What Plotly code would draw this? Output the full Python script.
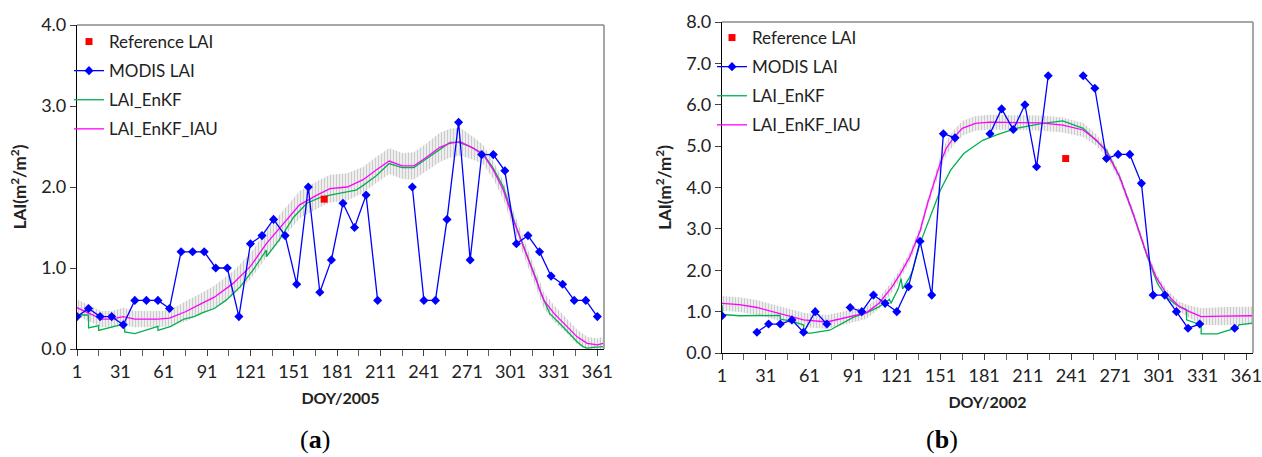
import plotly.graph_objects as go

# ---------------- (a) 2005 ----------------
a_modis_days = [1, 9, 17, 25, 33, 41, 49, 57, 65, 73, 81, 89, 97, 105, 113, 121, 129, 137, 145, 153,
                161, 169, 177, 185, 193, 201, 209, 217, 225, 233, 241, 249, 257, 265, 273, 281, 289,
                297, 305, 313, 321, 329, 337, 345, 353, 361]
a_modis_lai = [0.4, 0.5, 0.4, 0.4, 0.3, 0.6, 0.6, 0.6, 0.5, 1.2, 1.2, 1.2, 1.0, 1.0, 0.4, 1.3, 1.4, 1.6, 1.4, 0.8,
               2.0, 0.7, 1.1, 1.8, 1.5, 1.9, 0.6, None, None, 2.0, 0.6, 0.6, 1.6, 2.8, 1.1, 2.4, 2.4,
               2.2, 1.3, 1.4, 1.2, 0.9, 0.8, 0.6, 0.6, 0.4]
a_ref_day = [172]
a_ref_lai = [1.85]

a_enkf_days = [1, 9, 9, 16, 16, 25, 34, 34, 41, 57, 57, 66, 75, 82, 88, 96, 104, 114, 123, 132, 132,
               141, 151, 160, 169, 176, 188, 194, 199, 208, 217, 226, 234, 243, 252, 259, 265, 273,
               282, 289, 296, 304, 311, 319, 321, 323, 328, 338, 347, 351, 354, 358, 365]
a_enkf_lai = [0.42, 0.42, 0.26, 0.29, 0.23, 0.27, 0.31, 0.21, 0.19, 0.28, 0.23, 0.28, 0.37, 0.40, 0.45, 0.50,
              0.60, 0.77, 0.98, 1.22, 1.14, 1.35, 1.63, 1.80, 1.87, 1.90, 1.94, 1.96, 2.02, 2.14, 2.29,
              2.24, 2.24, 2.35, 2.47, 2.55, 2.55, 2.50, 2.41, 2.23, 2.00, 1.55, 1.22, 0.85, 0.73, 0.65,
              0.44, 0.26, 0.09, 0.03, 0.01, 0.02, 0.03]

a_iau_days = [1, 9, 18, 25, 33, 41, 57, 65, 76, 87, 96, 109, 121, 132, 144, 155, 167, 176, 188, 199,
              208, 217, 226, 234, 243, 252, 259, 266, 275, 282, 289, 296, 303, 310, 317, 324, 331,
              340, 347, 354, 361, 365]
a_iau_lai = [0.51, 0.44, 0.37, 0.37, 0.40, 0.37, 0.37, 0.38, 0.46, 0.56, 0.64, 0.81, 1.02, 1.30, 1.55, 1.78,
             1.90, 1.98, 2.00, 2.09, 2.21, 2.32, 2.26, 2.26, 2.37, 2.49, 2.54, 2.56, 2.48, 2.40, 2.21,
             1.96, 1.59, 1.26, 0.93, 0.60, 0.44, 0.28, 0.15, 0.07, 0.05, 0.07]
a_iau_spread = [0.10, 0.10, 0.10, 0.10, 0.11, 0.10, 0.10, 0.10, 0.12, 0.13, 0.14, 0.15, 0.16, 0.17, 0.17, 0.17,
                0.17, 0.17, 0.17, 0.16, 0.16, 0.16, 0.16, 0.17, 0.17, 0.18, 0.18, 0.17, 0.14, 0.12, 0.11,
                0.11, 0.11, 0.11, 0.11, 0.10, 0.10, 0.09, 0.09, 0.08, 0.08, 0.08]

# ---------------- (b) 2002 ----------------
b_modis_days = [1, 9, 17, 25, 33, 41, 49, 57, 65, 73, 81, 89, 97, 105, 113, 121, 129, 137, 145, 153,
                161, 169, 177, 185, 193, 201, 209, 217, 225, 233, 241, 249, 257, 265, 273, 281, 289,
                297, 305, 313, 321, 329, 337, 345, 353]
b_modis_lai = [0.9, None, None, 0.5, 0.7, 0.7, 0.8, 0.5, 1.0, 0.7, None, 1.1, 1.0, 1.4, 1.2, 1.0, 1.6, 2.7, 1.4, 5.3,
               5.2, None, None, 5.3, 5.9, 5.4, 6.0, 4.5, 6.7, None, None, 6.7, 6.4, 4.7, 4.8, 4.8, 4.1,
               1.4, 1.4, 1.0, 0.6, 0.7, None, None, 0.6]
b_ref_day = [237]
b_ref_lai = [4.7]

b_enkf_days = [1, 1.5, 13, 41, 41, 50, 57, 57, 62, 75, 91, 101, 109, 116, 117, 122, 124, 125, 130, 132,
               137, 144, 151, 158, 167, 180, 190, 203, 221, 235, 249, 265, 274, 284, 293, 300, 306,
               313, 320, 320, 330, 330, 341, 355, 356, 365]
b_enkf_lai = [1.16, 0.93, 0.90, 0.91, 0.82, 0.76, 0.68, 0.48, 0.48, 0.55, 0.86, 0.98, 1.12, 1.30, 1.20, 1.55,
              1.80, 1.55, 1.84, 2.00, 2.65, 3.29, 3.94, 4.42, 4.82, 5.14, 5.28, 5.43, 5.55, 5.61, 5.43,
              4.90, 4.26, 3.29, 2.33, 1.68, 1.36, 1.16, 1.05, 0.80, 0.68, 0.46, 0.46, 0.62, 0.68, 0.72]

b_iau_days = [1, 13, 25, 41, 57, 73, 91, 100, 109, 118, 124, 130, 137, 142, 146, 151, 155, 160, 166, 175,
              185, 220, 235, 249, 258, 265, 274, 283, 292, 299, 306, 315, 322, 330, 345, 365]
b_iau_lai = [1.20, 1.17, 1.10, 0.95, 0.80, 0.75, 0.89, 0.97, 1.21, 1.61, 1.95, 2.33, 2.95, 3.60, 4.05, 4.60,
             4.95, 5.20, 5.43, 5.55, 5.58, 5.56, 5.51, 5.39, 5.15, 4.86, 4.26, 3.40, 2.45, 1.84, 1.44,
             1.12, 1.00, 0.88, 0.89, 0.90]
b_iau_spread = [0.18, 0.18, 0.18, 0.17, 0.17, 0.17, 0.16, 0.15, 0.14, 0.13, 0.12, 0.12, 0.12, 0.12, 0.14, 0.16,
                0.17, 0.18, 0.18, 0.18, 0.18, 0.18, 0.18, 0.17, 0.14, 0.12, 0.10, 0.10, 0.10, 0.10, 0.11,
                0.12, 0.15, 0.20, 0.22, 0.22]

x_tick0, x_dtick = 1, 30
y_titles = "<b>LAI(m<sup>2</sup>/m<sup>2</sup>)</b>"

FONT = "Lato, 'Noto Sans', sans-serif"
BLUE = "#0000ff"
GREEN = "#00b050"
MAGENTA = "#ff00ff"
RED = "#ff0000"

fig = go.Figure()


def add_panel(xa, ya, legend, modis_d, modis_v, ref_d, ref_v, enkf_d, enkf_v, iau_d, iau_v, iau_s):
    lower = [v - s for v, s in zip(iau_v, iau_s)]
    upper = [v + s for v, s in zip(iau_v, iau_s)]
    fig.add_trace(go.Scatter(x=iau_d, y=lower, mode="lines", line=dict(width=0, color="#c8c8c8"),
                             showlegend=False, hoverinfo="skip", xaxis=xa, yaxis=ya))
    fig.add_trace(go.Scatter(x=iau_d, y=upper, mode="lines", line=dict(width=0, color="#c8c8c8"),
                             fill="tonexty", fillcolor="rgba(245,245,245,0.6)",
                             fillpattern=dict(shape="|", fgcolor="#a2a2a2", bgcolor="rgba(238,238,238,0.6)",
                                              size=3, solidity=0.45),
                             showlegend=False, hoverinfo="skip", xaxis=xa, yaxis=ya))
    fig.add_trace(go.Scatter(x=enkf_d, y=enkf_v, mode="lines", name="LAI_EnKF",
                             line=dict(color=GREEN, width=1.3), legend=legend, legendrank=3,
                             legendgroup=legend + "c", xaxis=xa, yaxis=ya))
    fig.add_trace(go.Scatter(x=iau_d, y=iau_v, mode="lines", name="LAI_EnKF_IAU",
                             line=dict(color=MAGENTA, width=1.3), legend=legend, legendrank=4,
                             legendgroup=legend + "d", xaxis=xa, yaxis=ya))
    fig.add_trace(go.Scatter(x=modis_d, y=modis_v, mode="lines+markers", name="MODIS LAI",
                             line=dict(color=BLUE, width=1.3), connectgaps=False,
                             marker=dict(symbol="diamond", size=7, color=BLUE), legend=legend,
                             legendrank=2, legendgroup=legend + "b", xaxis=xa, yaxis=ya))
    fig.add_trace(go.Scatter(x=ref_d, y=ref_v, mode="markers", name="Reference LAI",
                             marker=dict(symbol="square", size=7, color=RED), legend=legend,
                             legendrank=1, legendgroup=legend + "a", xaxis=xa, yaxis=ya))


add_panel("x", "y", "legend", a_modis_days, a_modis_lai, a_ref_day, a_ref_lai,
          a_enkf_days, a_enkf_lai, a_iau_days, a_iau_lai, a_iau_spread)
add_panel("x2", "y2", "legend2", b_modis_days, b_modis_lai, b_ref_day, b_ref_lai,
          b_enkf_days, b_enkf_lai, b_iau_days, b_iau_lai, b_iau_spread)

W, H = 1262, 457
xdom_a = [77 / W, 604 / W]
ydom_a = [1 - 349 / H, 1 - 25 / H]
xdom_b = [722 / W, 1253 / W]
ydom_b = [1 - 353 / H, 1 - 22 / H]

TICKFONT = dict(family=FONT, size=18, color="#222")
xcommon = dict(range=[1, 365.6], tick0=x_tick0, dtick=x_dtick, ticks="outside", ticklen=6,
               tickcolor="#404040", showline=True, linecolor="black", linewidth=1.2,
               showgrid=False, zeroline=False, tickfont=TICKFONT, automargin=False,
               minor=dict(ticks="outside", tick0=1, dtick=15, ticklen=6, tickcolor="#606060"))
ycommon = dict(dtick=1, tickformat=".1f", ticks="outside", ticklen=6, tickcolor="#404040",
               showline=True, linecolor="black", linewidth=1.2, showgrid=False, zeroline=False,
               tickfont=TICKFONT, automargin=False)

fig.update_layout(
    width=W, height=H, margin=dict(l=0, r=0, t=0, b=0),
    paper_bgcolor="white", plot_bgcolor="white",
    xaxis=dict(domain=xdom_a, anchor="y", **xcommon,
               title=dict(text="<b>DOY/2005</b>", font=dict(family=FONT, size=16, color="#222"), standoff=12)),
    yaxis=dict(domain=ydom_a, anchor="x", range=[0, 4], **ycommon,
               title=dict(text=y_titles, font=dict(family=FONT, size=17, color="#222"), standoff=10)),
    xaxis2=dict(domain=xdom_b, anchor="y2", **xcommon,
                title=dict(text="<b>DOY/2002</b>", font=dict(family=FONT, size=16, color="#222"), standoff=12)),
    yaxis2=dict(domain=ydom_b, anchor="x2", range=[0, 8], **ycommon,
                title=dict(text=y_titles, font=dict(family=FONT, size=17, color="#222"), standoff=10)),
    legend=dict(x=69 / W, y=1 - 24 / H, xanchor="left", yanchor="top", bgcolor="rgba(0,0,0,0)",
                font=dict(family=FONT, size=17, color="#222"), tracegroupgap=4, itemwidth=30),
    legend2=dict(x=712 / W, y=1 - 20 / H, xanchor="left", yanchor="top", bgcolor="rgba(0,0,0,0)",
                 font=dict(family=FONT, size=17, color="#222"), tracegroupgap=4, itemwidth=30),
    showlegend=True,
)

# grey plot-area frame on top/right
for xr, yr in (("x domain", "y domain"), ("x2 domain", "y2 domain")):
    fig.add_shape(type="line", xref=xr, yref=yr, x0=0, x1=1, y0=1, y1=1, line=dict(color="#8a8a8a", width=1.5))
    fig.add_shape(type="line", xref=xr, yref=yr, x0=1, x1=1, y0=0, y1=1, line=dict(color="#8a8a8a", width=1.5))

fig.add_annotation(text="(<b>a</b>)", x=315 / W, y=1 - 456 / H, xref="paper", yref="paper",
                   xanchor="center", yanchor="bottom", showarrow=False,
                   font=dict(family="Liberation Serif, serif", size=26, color="black"))
fig.add_annotation(text="(<b>b</b>)", x=942 / W, y=1 - 456 / H, xref="paper", yref="paper",
                   xanchor="center", yanchor="bottom", showarrow=False,
                   font=dict(family="Liberation Serif, serif", size=26, color="black"))

fig.write_html("out.html", config={"displayModeBar": False},
               post_script="document.body.style.margin='0px';document.body.style.overflow='hidden';")
